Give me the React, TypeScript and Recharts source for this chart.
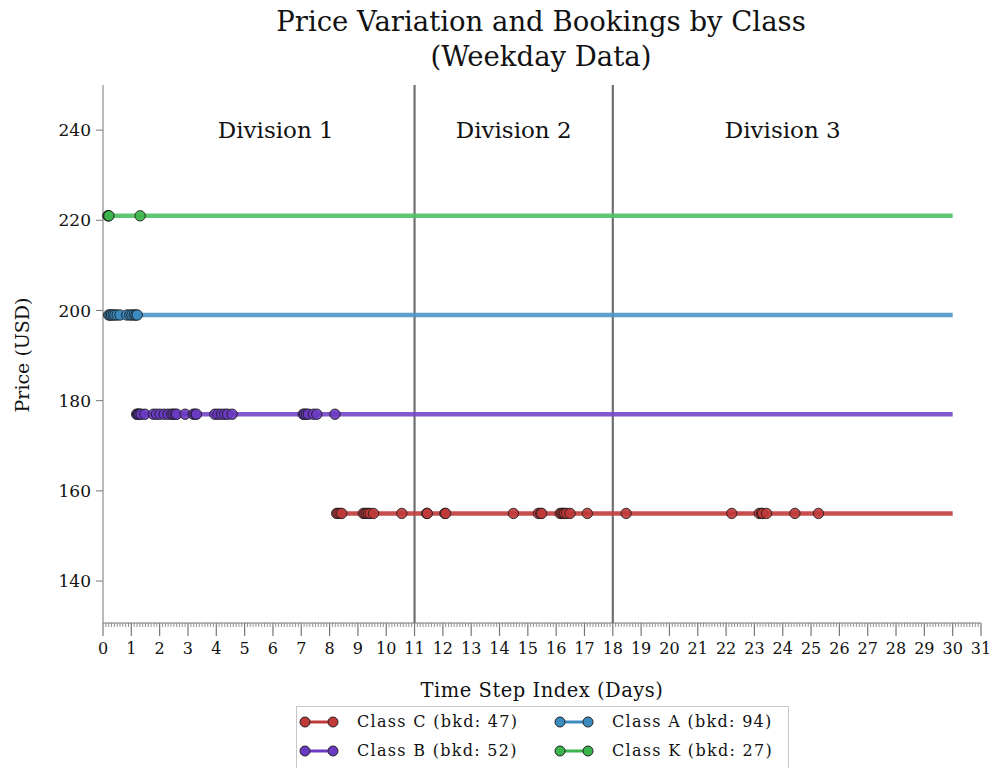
import React from 'react';
import { ComposedChart, Line, Scatter, XAxis, YAxis, ReferenceLine, ReferenceDot } from 'recharts';

const FONT = '"DejaVu Serif", serif';
const END_DAY = 30;

// booking times (days) for each class
const classC_days = [8.25, 8.3, 8.37, 8.43, 9.19, 9.25, 9.31, 9.37, 9.43, 9.55, 10.55, 11.43, 11.45, 12.07, 12.1, 14.49, 15.37, 15.45, 15.49, 16.14, 16.2, 16.25, 16.3, 16.37, 16.49, 17.1, 18.47, 22.2, 23.17, 23.25, 23.29, 23.43, 24.43, 25.26];
const classB_days = [1.19, 1.22, 1.26, 1.3, 1.35, 1.48, 1.78, 1.89, 2.01, 2.16, 2.3, 2.42, 2.48, 2.55, 2.6, 2.9, 3.19, 3.25, 3.3, 3.95, 4.06, 4.18, 4.3, 4.4, 4.56, 7.07, 7.12, 7.18, 7.25, 7.43, 7.55, 8.19];
const classA_days = [0.2, 0.25, 0.3, 0.36, 0.42, 0.5, 0.6, 0.84, 0.95, 1.02, 1.1, 1.16, 1.21];
const classK_days = [0.17, 0.19, 0.21, 1.31];

const classNames = ['Class C', 'Class B', 'Class A', 'Class K'];
const classPrices = [155, 177, 199, 221];
const classBooked = [47, 52, 94, 27];
const lineColors = ['#c23b3b', '#7446c6', '#4a97c3', '#50c060'];
const dotColors = ['#c03a3a', '#6a3bc2', '#3a8bc0', '#3cb44c'];

const xTickLabels = [0, 1, 2, 3, 4, 5, 6, 7, 8, 9, 10, 11, 12, 13, 14, 15, 16, 17, 18, 19, 20, 21, 22, 23, 24, 25, 26, 27, 28, 29, 30, 31];
const yTickLabels = [140, 160, 180, 200, 220, 240];
const divisionBounds = [11, 18];
const divisionLabels = ['Division 1', 'Division 2', 'Division 3'];
const divisionCenters = [6.1, 14.5, 24];

const allDays = [classC_days, classB_days, classA_days, classK_days];

const series = classNames.map((name, i) => {
  const days = allDays[i];
  return {
    name,
    color: lineColors[i],
    dot: dotColors[i],
    line: [{ x: days[0], y: classPrices[i] }, { x: END_DAY, y: classPrices[i] }],
    points: days.map((d) => ({ x: d, y: classPrices[i] })),
  };
});

// major ticks every day, minor every 0.1 day
const allXTicks: number[] = [];
xTickLabels.forEach((t, i) => {
  allXTicks.push(t);
  if (i < xTickLabels.length - 1) {
    for (let k = 1; k < 10; k++) allXTicks.push(t + k / 10);
  }
});

const XTick = (props: any) => {
  const { x, y, payload } = props;
  const v = payload.value;
  const major = Math.abs(v - Math.round(v)) < 1e-6;
  return (
    <g>
      <line x1={x} x2={x} y1={y} y2={y + (major ? 13 : 4)} stroke="#777" strokeWidth={major ? 1.2 : 0.8} />
      {major && (
        <text x={x} y={y + 31} textAnchor="middle" fontFamily={FONT} fontSize={16} fill="#111">
          {Math.round(v)}
        </text>
      )}
    </g>
  );
};

const Dot = (color: string) => (props: any) => (
  <circle cx={props.cx} cy={props.cy} r={5.2} fill={color} fillOpacity={0.9} stroke="#1a1a1a" strokeOpacity={0.85} strokeWidth={1} />
);

const LegendMark = ({ color }: { color: string }) => (
  <svg width={40} height={14} style={{ display: 'block' }}>
    <line x1={5} x2={35} y1={7} y2={7} stroke={color} strokeWidth={3} />
    <circle cx={6} cy={7} r={5} fill={color} stroke="#222" strokeWidth={1} />
    <circle cx={34} cy={7} r={5} fill={color} stroke="#222" strokeWidth={1} />
  </svg>
);

const legendPos = [
  { left: 299, top: 712 },
  { left: 299, top: 741 },
  { left: 554, top: 712 },
  { left: 554, top: 741 },
];

export default function App() {
  return (
    <div style={{ position: 'relative', width: 995, height: 768, background: '#fff', overflow: 'hidden', fontFamily: FONT }}>
      <style>{'body{margin:0}'}</style>
      <div style={{ position: 'absolute', left: 0, width: 1082, top: 4, textAlign: 'center', fontSize: 27.5, lineHeight: '35px', color: '#111' }}>
        Price Variation and Bookings by Class
        <br />
        (Weekday Data)
      </div>
      <ComposedChart width={995} height={768} margin={{ top: 85, right: 14, bottom: 85, left: 0 }}>
        <XAxis
          type="number"
          dataKey="x"
          domain={[0, 31]}
          ticks={allXTicks}
          interval={0}
          tick={<XTick />}
          tickLine={false}
          tickSize={0}
          tickMargin={0}
          height={60}
          axisLine={{ stroke: '#777', strokeWidth: 1 }}
          allowDuplicatedCategory={false}
        />
        <YAxis
          type="number"
          dataKey="y"
          domain={[130.7, 250]}
          ticks={yTickLabels}
          width={103}
          tickSize={7}
          tickMargin={5}
          tickLine={{ stroke: '#777' }}
          axisLine={{ stroke: '#777', strokeWidth: 1 }}
          tick={{ fontFamily: FONT, fontSize: 17, fill: '#111' }}
        />
        {divisionBounds.map((b) => (
          <ReferenceLine key={b} x={b} stroke="#6f6f6f" strokeWidth={2.2} />
        ))}
        {divisionLabels.map((d, i) => (
          <ReferenceDot
            key={d}
            x={divisionCenters[i]}
            y={240}
            r={0}
            stroke="none"
            fill="none"
            label={{ value: d, position: 'center', fontFamily: FONT, fontSize: 23, fill: '#111' }}
          />
        ))}
        {series.map((s) => (
          <Line
            key={s.name + '-line'}
            data={s.line}
            dataKey="y"
            stroke={s.color}
            strokeWidth={4.5}
            strokeOpacity={0.9}
            dot={false}
            activeDot={false}
            isAnimationActive={false}
          />
        ))}
        {series.map((s) => (
          <Scatter key={s.name + '-pts'} data={s.points} dataKey="y" shape={Dot(s.dot)} isAnimationActive={false} />
        ))}
      </ComposedChart>
      <div style={{ position: 'absolute', left: 22, top: 355, transform: 'translate(-50%, -50%) rotate(-90deg)', fontSize: 19, whiteSpace: 'nowrap', color: '#111' }}>
        Price (USD)
      </div>
      <div style={{ position: 'absolute', left: 542, top: 690, transform: 'translate(-50%, -50%)', fontSize: 19.5, letterSpacing: 0.5, whiteSpace: 'nowrap', color: '#111' }}>
        Time Step Index (Days)
      </div>
      <div style={{ position: 'absolute', left: 296, top: 706, width: 491, height: 80, border: '1px solid #c8c8c8', background: '#fff' }} />
      {series.map((s, i) => (
        <div
          key={s.name + '-leg'}
          style={{ position: 'absolute', left: legendPos[i].left, top: legendPos[i].top, display: 'flex', alignItems: 'center', gap: 18, fontSize: 16, letterSpacing: 1.3, color: '#111', whiteSpace: 'nowrap' }}
        >
          <LegendMark color={s.dot} />
          <span>{`${s.name} (bkd: ${classBooked[i]})`}</span>
        </div>
      ))}
    </div>
  );
}
